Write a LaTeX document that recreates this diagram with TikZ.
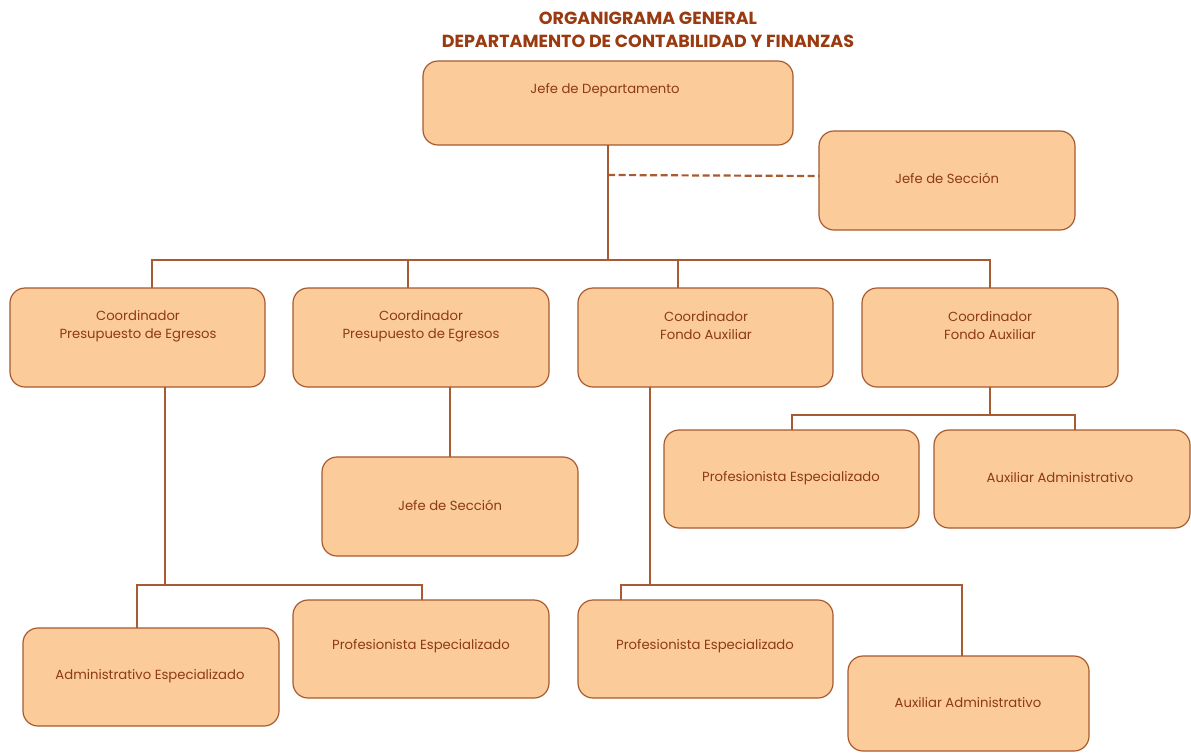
\documentclass[tikz,border=0pt]{standalone}
\usepackage{fontspec}
\setmainfont{Poppins}
\definecolor{boxfill}{HTML}{FBCB99}
\definecolor{boxline}{HTML}{A85A30}
\definecolor{txt}{HTML}{8E3A12}
\definecolor{ttl}{HTML}{9A3A10}
\begin{document}
\begin{tikzpicture}[x=1pt,y=-1pt,
  box/.style={draw=boxline,fill=boxfill,line width=1.2pt,rounded corners=15pt},
  lbl/.style={text=txt,font=\fontsize{13.2}{18}\selectfont,align=center},
  conn/.style={draw=boxline,line width=1.1pt}]
\useasboundingbox (0,0) rectangle (1191,753);
\fill[white] (0,0) rectangle (1191,753);
% title
\node[text=ttl,font=\bfseries\fontsize{17.5}{23}\selectfont,align=center] (title) at (648,30) {ORGANIGRAMA GENERAL\\DEPARTAMENTO DE CONTABILIDAD Y FINANZAS};
% boxes
\path[box] (423,61) rectangle (793,145); \coordinate (jd) at (608,145);
\node[lbl] (tjd) at (605,90) {Jefe de Departamento};
\path[box] (819,131) rectangle (1075,230); \coordinate (js) at (819,176);
\node[lbl] (tjs) at (947,178) {Jefe de Sección};
\path[box] (10,288) rectangle (265,387);
\node[lbl] (tc1) at (138,326) {Coordinador\\Presupuesto de Egresos};
\path[box] (293,288) rectangle (549,387);
\node[lbl] (tc2) at (421,326) {Coordinador\\Presupuesto de Egresos};
\path[box] (578,288) rectangle (833,387);
\node[lbl] (tc3) at (706,326) {Coordinador\\Fondo Auxiliar};
\path[box] (862,288) rectangle (1118,387);
\node[lbl] (tc4) at (990,326) {Coordinador\\Fondo Auxiliar};
\path[box] (322,457) rectangle (578,556);
\node[lbl] (tjs2) at (450,505) {Jefe de Sección};
\path[box] (664,430) rectangle (919,528);
\node[lbl] (tpe4) at (791,478) {Profesionista Especializado};
\path[box] (934,430) rectangle (1190,528);
\node[lbl] (taa4) at (1060,478) {Auxiliar Administrativo};
\path[box] (23,628) rectangle (279,726);
\node[lbl] (tae1) at (150,676) {Administrativo Especializado};
\path[box] (293,600) rectangle (549,698);
\node[lbl] (tpe1) at (421,646) {Profesionista Especializado};
\path[box] (578,600) rectangle (833,698);
\node[lbl] (tpe3) at (705,646) {Profesionista Especializado};
\path[box] (848,656) rectangle (1089,751);
\node[lbl] (taa3) at (968,703) {Auxiliar Administrativo};
% connectors
\draw[conn,dash pattern=on 7pt off 3.5pt,line width=2.2pt] (608,175) -- (js);
\draw[conn] (jd) -- (608,260);
\draw[conn] (152,288) -- (152,260) -- (990,260) -- (990,288);
\draw[conn] (408,260) -- (408,288);
\draw[conn] (678,260) -- (678,288);
\draw[conn] (450,387) -- (450,457);
\draw[conn] (990,387) -- (990,415);
\draw[conn] (792,430) -- (792,415) -- (1075,415) -- (1075,430);
\draw[conn] (165,387) -- (165,585);
\draw[conn] (137,628) -- (137,585) -- (422,585) -- (422,600);
\draw[conn] (650,387) -- (650,585);
\draw[conn] (621,600) -- (621,585) -- (962,585) -- (962,656);
\end{tikzpicture}
\end{document}
